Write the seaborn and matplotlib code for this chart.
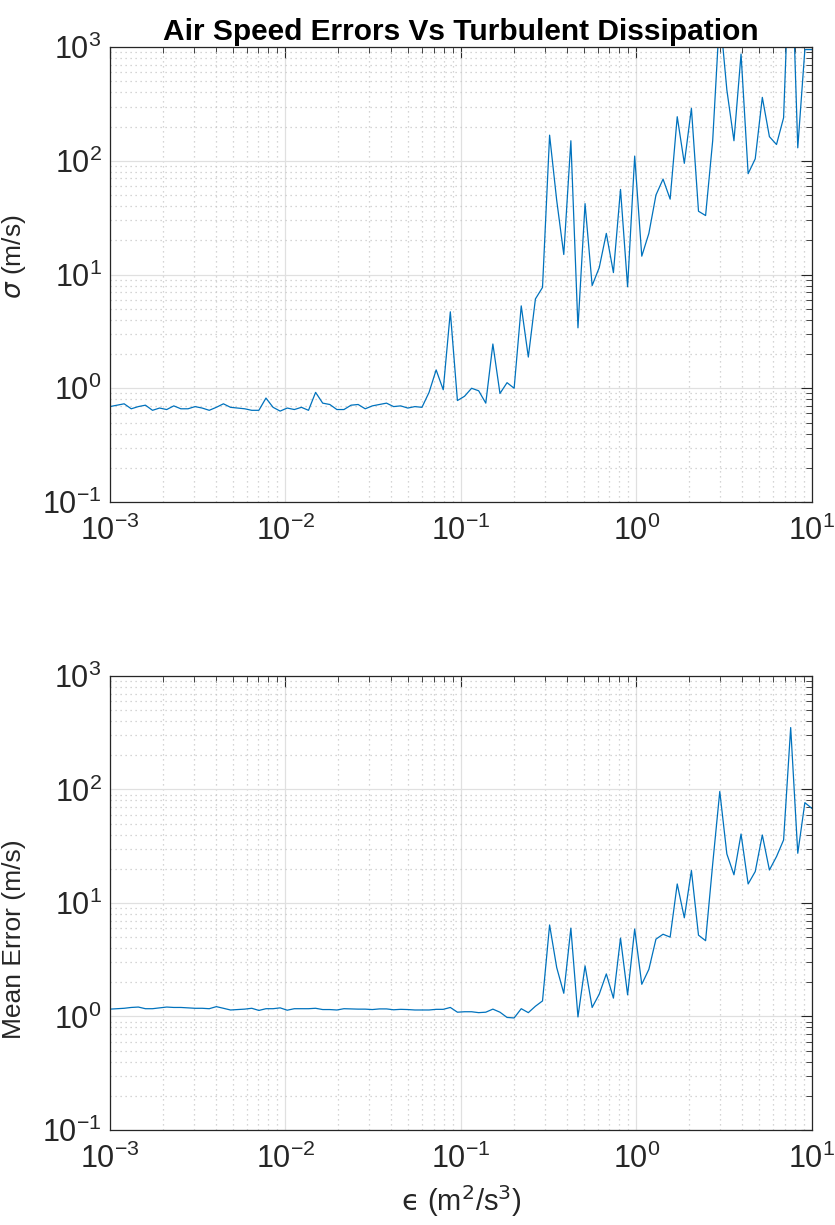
import numpy as np
import pandas as pd
import matplotlib
matplotlib.use('Agg')
import matplotlib.pyplot as plt
import seaborn as sns
from matplotlib.ticker import LogLocator, NullFormatter

eps = np.logspace(-3, 1, 100)  # dissipation grid (m^2/s^3)

sigma = [0.69, 0.71, 0.73, 0.66, 0.69, 0.71, 0.64, 0.67, 0.65, 0.70,
         0.66, 0.66, 0.69, 0.67, 0.64, 0.68, 0.73, 0.68, 0.67, 0.66,
         0.64, 0.64, 0.82, 0.68, 0.63, 0.67, 0.65, 0.68, 0.64, 0.92,
         0.74, 0.72, 0.65, 0.65, 0.71, 0.72, 0.66, 0.70, 0.72, 0.74,
         0.69, 0.70, 0.67, 0.69, 0.68, 0.92, 1.45, 0.97, 4.7, 0.78,
         0.85, 1.0, 0.95, 0.74, 2.45, 0.90, 1.12, 1.0, 5.3, 1.88,
         6.1, 7.7, 168, 45, 15, 150, 3.4, 42, 8.0, 11.5,
         23, 10.4, 56, 7.8, 110, 14.5, 23, 50, 69, 46,
         244, 95, 289, 36, 33, 150, 2000, 419, 150, 868,
         77, 104, 361, 163, 139, 239, 12000, 130, 950, 950]

mean_err = [1.16, 1.17, 1.18, 1.20, 1.21, 1.17, 1.17, 1.19, 1.21, 1.20,
            1.20, 1.19, 1.18, 1.18, 1.17, 1.22, 1.18, 1.14, 1.15, 1.16,
            1.18, 1.13, 1.17, 1.17, 1.19, 1.135, 1.17, 1.17, 1.17, 1.18,
            1.15, 1.15, 1.14, 1.17, 1.165, 1.16, 1.16, 1.15, 1.165, 1.165,
            1.145, 1.155, 1.15, 1.14, 1.14, 1.14, 1.155, 1.155, 1.20, 1.09,
            1.10, 1.10, 1.08, 1.09, 1.16, 1.09, 0.98, 0.97, 1.17, 1.08,
            1.23, 1.37, 6.4, 2.7, 1.6, 6.0, 0.99, 2.79, 1.2, 1.57,
            2.37, 1.45, 4.9, 1.55, 5.9, 1.92, 2.6, 4.8, 5.3, 5.0,
            14.7, 7.4, 19.3, 5.2, 4.65, 22, 96, 27, 17.7, 40.5,
            14.7, 18.9, 39.7, 19.5, 25.6, 35.9, 351, 27.4, 76.5, 68]

df = pd.DataFrame({'eps': eps, 'sigma': sigma, 'mean_err': mean_err})

sns.set_style('white')
plt.rcParams['font.family'] = ['Liberation Sans', 'DejaVu Sans']

BLUE = '#0072BD'
AXC = '#262626'


def style_ax(ax):  # matlab-ish log axes
    ax.set_xscale('log')
    ax.set_yscale('log')
    ax.set_xlim(1e-3, 1e1)
    ax.set_ylim(1e-1, 1e3)
    for a in (ax.xaxis, ax.yaxis):
        a.set_major_locator(LogLocator(base=10, numticks=10))
        a.set_minor_locator(LogLocator(base=10, subs=np.arange(2, 10), numticks=100))
        a.set_minor_formatter(NullFormatter())
    ax.grid(which='major', color='#e0e0e0', lw=0.9, ls='-')
    ax.grid(which='minor', color='#c8c8c8', lw=0.9, ls=(0, (1, 3)))
    ax.set_axisbelow(True)
    ax.tick_params(which='both', direction='in', top=True, right=True,
                   colors=AXC, labelsize=22)
    ax.tick_params(axis='x', pad=10)
    ax.tick_params(axis='y', pad=6)
    ax.tick_params(which='major', length=8, width=0.8)
    ax.tick_params(which='minor', length=4, width=0.6)
    for s in ax.spines.values():
        s.set_color(AXC)
        s.set_linewidth(0.9)


fig = plt.figure(figsize=(8.35, 12.25), dpi=100)
ax1 = fig.add_axes([0.1317, 0.5902, 0.8407, 0.3714])
ax2 = fig.add_axes([0.1317, 0.0776, 0.8407, 0.3706])

sns.lineplot(data=df, x='eps', y='sigma', ax=ax1, color=BLUE, lw=0.9, sort=False)
sns.lineplot(data=df, x='eps', y='mean_err', ax=ax2, color=BLUE, lw=0.9, sort=False)

for ax in (ax1, ax2):
    style_ax(ax)

ax1.set_title('Air Speed Errors Vs Turbulent Dissipation', fontsize=21.5,
              fontweight='bold', color='black', pad=5)
ax1.set_xlabel('')
ax1.set_ylabel(r'$\sigma$ (m/s)', fontsize=19, color=AXC)
ax1.yaxis.set_label_coords(-0.117, 0.54)
ax2.set_ylabel('Mean Error (m/s)', fontsize=19, color=AXC)
ax2.yaxis.set_label_coords(-0.12, 0.42)
ax2.set_xlabel(r'$\mathrm{ϵ}$ (m$^2$/s$^3$)', fontsize=21, color=AXC, labelpad=6)

plt.savefig('out.png', dpi=100)
plt.close()
